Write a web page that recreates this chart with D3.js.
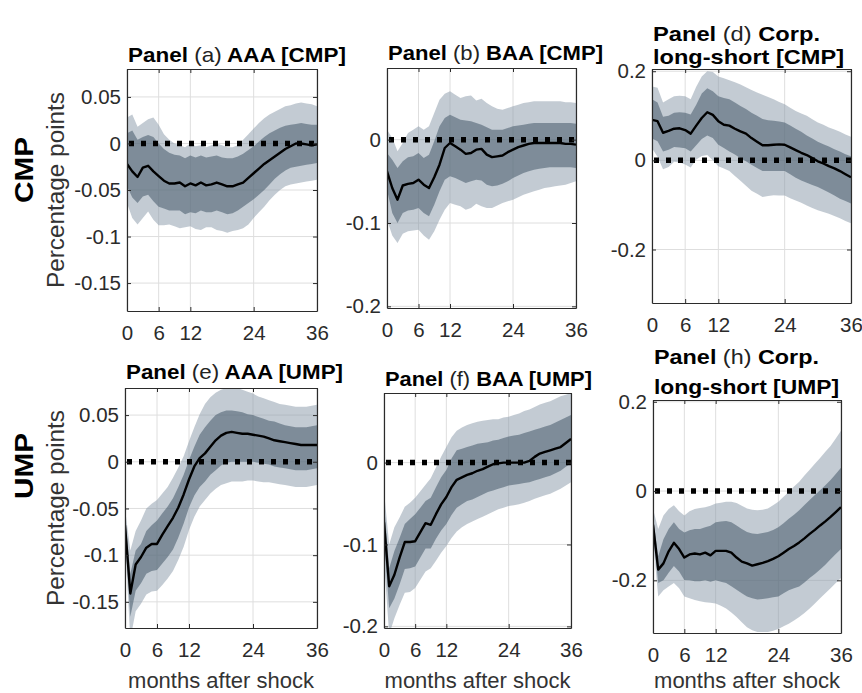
<!DOCTYPE html>
<html lang="en">
<head>
<meta charset="utf-8">
<script src="https://cdn.jsdelivr.net/npm/d3@7"></script>
<style>
  body { margin: 0; background: #fff; }
  text { font-family: "Liberation Sans", Arial, sans-serif; }
</style>
<title>Impulse responses</title>
</head>
<body>
<svg id="chart" width="862" height="693"></svg>
<script>
// months after the shock
const months = [0,1,2,3,4,5,6,7,8,9,10,11,12,13,14,15,16,17,18,19,20,21,22,23,24,25,26,27,28,29,30,31,32,33,34,35,36];
const monthTicks = [0, 6, 12, 24, 36];

const aaaTicks = [-0.15, -0.1, -0.05, 0, 0.05];
const aaaTickLabels = ["-0.15", "-0.1", "-0.05", "0", "0.05"];
const baaTicks = [-0.2, -0.1, 0];
const baaTickLabels = ["-0.2", "-0.1", "0"];
const lsTicks = [-0.2, 0, 0.2];
const lsTickLabels = ["-0.2", "0", "0.2"];

// Panel (a) AAA [CMP]
const aMean    = [-0.022,-0.03,-0.036,-0.026,-0.024,-0.03,-0.035,-0.04,-0.043,-0.043,-0.042,-0.046,-0.043,-0.045,-0.042,-0.045,-0.044,-0.042,-0.044,-0.046,-0.046,-0.044,-0.042,-0.037,-0.032,-0.027,-0.022,-0.018,-0.014,-0.01,-0.006,-0.003,0,0,-0.001,-0.002,-0.001];
const aInnerHi = [0.011,0.014,0.004,0.007,0.009,0.007,0,-0.006,-0.01,-0.012,-0.013,-0.016,-0.013,-0.015,-0.013,-0.015,-0.014,-0.013,-0.015,-0.016,-0.016,-0.014,-0.011,-0.007,-0.003,0.002,0.007,0.011,0.014,0.017,0.019,0.02,0.021,0.022,0.021,0.02,0.02];
const aInnerLo = [-0.046,-0.058,-0.064,-0.057,-0.055,-0.062,-0.068,-0.07,-0.072,-0.072,-0.072,-0.076,-0.074,-0.075,-0.072,-0.074,-0.074,-0.072,-0.074,-0.076,-0.075,-0.072,-0.068,-0.064,-0.06,-0.055,-0.05,-0.044,-0.038,-0.033,-0.029,-0.026,-0.025,-0.024,-0.023,-0.022,-0.021];
const aOuterHi = [0.028,0.031,0.018,0.022,0.026,0.028,0.02,0.01,0.004,0,-0.002,-0.004,0,-0.003,-0.002,-0.004,-0.002,0,-0.002,-0.004,-0.004,-0.002,0.004,0.01,0.016,0.022,0.027,0.031,0.034,0.037,0.04,0.041,0.043,0.044,0.043,0.042,0.04];
const aOuterLo = [-0.064,-0.08,-0.087,-0.08,-0.073,-0.082,-0.088,-0.088,-0.087,-0.089,-0.091,-0.09,-0.089,-0.092,-0.093,-0.09,-0.09,-0.093,-0.094,-0.096,-0.094,-0.093,-0.091,-0.087,-0.08,-0.074,-0.068,-0.061,-0.055,-0.05,-0.046,-0.044,-0.043,-0.042,-0.041,-0.04,-0.039];

// Panel (b) BAA [CMP]
const bMean    = [-0.038,-0.058,-0.072,-0.055,-0.053,-0.052,-0.048,-0.054,-0.058,-0.045,-0.03,-0.01,-0.004,-0.008,-0.012,-0.017,-0.016,-0.012,-0.011,-0.018,-0.021,-0.02,-0.019,-0.015,-0.012,-0.009,-0.007,-0.005,-0.004,-0.004,-0.004,-0.004,-0.004,-0.004,-0.005,-0.005,-0.006];
const bInnerHi = [-0.016,-0.024,-0.034,-0.026,-0.021,-0.02,-0.016,-0.022,-0.018,-0.002,0.016,0.026,0.03,0.027,0.024,0.023,0.022,0.02,0.018,0.015,0.012,0.012,0.012,0.014,0.016,0.017,0.018,0.019,0.02,0.02,0.02,0.02,0.02,0.02,0.02,0.02,0.019];
const bInnerLo = [-0.06,-0.088,-0.1,-0.088,-0.085,-0.084,-0.082,-0.088,-0.092,-0.078,-0.062,-0.048,-0.044,-0.046,-0.049,-0.052,-0.05,-0.048,-0.049,-0.054,-0.056,-0.055,-0.053,-0.05,-0.046,-0.043,-0.04,-0.038,-0.036,-0.035,-0.034,-0.033,-0.033,-0.033,-0.033,-0.033,-0.034];
const bOuterHi = [0.012,0.002,-0.014,-0.004,0.008,0.012,0.016,0.012,0.016,0.032,0.048,0.055,0.058,0.054,0.05,0.052,0.053,0.047,0.049,0.044,0.04,0.037,0.036,0.038,0.04,0.042,0.044,0.045,0.046,0.046,0.046,0.046,0.046,0.046,0.045,0.045,0.044];
const bOuterLo = [-0.096,-0.115,-0.124,-0.113,-0.11,-0.109,-0.108,-0.115,-0.12,-0.11,-0.096,-0.084,-0.076,-0.078,-0.08,-0.084,-0.082,-0.077,-0.08,-0.082,-0.082,-0.079,-0.076,-0.074,-0.072,-0.069,-0.066,-0.064,-0.062,-0.06,-0.058,-0.057,-0.056,-0.055,-0.054,-0.052,-0.05];

// Panel (d) Corp. long-short [CMP]
const dMean    = [0.091,0.088,0.062,0.066,0.071,0.072,0.068,0.06,0.078,0.095,0.108,0.102,0.088,0.08,0.078,0.071,0.065,0.06,0.05,0.042,0.034,0.034,0.035,0.036,0.035,0.029,0.023,0.017,0.012,0.005,-0.002,-0.007,-0.013,-0.018,-0.024,-0.031,-0.038];
const dInnerHi = [0.137,0.13,0.098,0.1,0.107,0.108,0.107,0.103,0.125,0.15,0.162,0.155,0.144,0.14,0.137,0.13,0.122,0.115,0.107,0.1,0.093,0.09,0.089,0.087,0.085,0.078,0.071,0.064,0.056,0.049,0.042,0.036,0.031,0.025,0.02,0.014,0.009];
const dInnerLo = [0.049,0.043,0.02,0.024,0.03,0.029,0.027,0.02,0.034,0.048,0.056,0.05,0.035,0.028,0.02,0.013,0.005,-0.002,-0.01,-0.017,-0.024,-0.024,-0.024,-0.024,-0.024,-0.031,-0.039,-0.045,-0.05,-0.055,-0.06,-0.066,-0.072,-0.079,-0.086,-0.091,-0.097];
const dOuterHi = [0.166,0.163,0.13,0.137,0.144,0.145,0.144,0.137,0.165,0.188,0.2,0.198,0.188,0.184,0.18,0.175,0.17,0.164,0.158,0.152,0.147,0.142,0.137,0.131,0.126,0.118,0.111,0.105,0.1,0.092,0.085,0.08,0.074,0.069,0.064,0.058,0.053];
const dOuterLo = [0.027,0.008,-0.02,-0.015,-0.003,-0.005,-0.009,-0.016,0.002,0.01,0.012,0,-0.013,-0.018,-0.024,-0.035,-0.046,-0.057,-0.068,-0.075,-0.082,-0.08,-0.078,-0.079,-0.079,-0.085,-0.09,-0.095,-0.101,-0.107,-0.112,-0.116,-0.12,-0.125,-0.13,-0.136,-0.141];

// Panel (e) AAA [UMP]
const eMean    = [-0.068,-0.141,-0.11,-0.102,-0.092,-0.088,-0.088,-0.078,-0.069,-0.06,-0.049,-0.035,-0.019,-0.005,0.004,0.009,0.016,0.023,0.028,0.031,0.032,0.031,0.03,0.03,0.029,0.028,0.027,0.025,0.023,0.022,0.021,0.02,0.019,0.018,0.018,0.018,0.018];
const eInnerHi = [-0.058,-0.12,-0.095,-0.088,-0.074,-0.068,-0.063,-0.055,-0.048,-0.039,-0.027,-0.014,0.002,0.016,0.029,0.037,0.044,0.05,0.053,0.055,0.055,0.054,0.053,0.051,0.05,0.048,0.046,0.044,0.043,0.041,0.039,0.038,0.037,0.037,0.037,0.038,0.039];
const eInnerLo = [-0.076,-0.166,-0.138,-0.13,-0.12,-0.117,-0.116,-0.109,-0.102,-0.094,-0.081,-0.066,-0.049,-0.036,-0.027,-0.021,-0.014,-0.009,-0.004,-0.001,0,0,0,0,0,-0.001,-0.002,-0.003,-0.005,-0.006,-0.007,-0.008,-0.009,-0.009,-0.009,-0.008,-0.007];
const eOuterHi = [-0.05,-0.095,-0.074,-0.063,-0.05,-0.045,-0.041,-0.034,-0.027,-0.017,-0.006,0.006,0.022,0.037,0.051,0.062,0.069,0.074,0.077,0.079,0.08,0.079,0.077,0.075,0.073,0.07,0.068,0.066,0.064,0.062,0.061,0.06,0.059,0.059,0.059,0.06,0.061];
const eOuterLo = [-0.085,-0.19,-0.16,-0.152,-0.142,-0.139,-0.138,-0.132,-0.125,-0.117,-0.105,-0.091,-0.073,-0.059,-0.048,-0.041,-0.034,-0.029,-0.025,-0.023,-0.021,-0.021,-0.021,-0.02,-0.02,-0.021,-0.022,-0.022,-0.023,-0.024,-0.025,-0.026,-0.027,-0.027,-0.027,-0.026,-0.025];

// Panel (f) BAA [UMP]
const fMean    = [-0.073,-0.151,-0.137,-0.116,-0.097,-0.097,-0.096,-0.085,-0.074,-0.076,-0.063,-0.051,-0.042,-0.03,-0.021,-0.018,-0.015,-0.013,-0.01,-0.008,-0.005,-0.002,-0.001,0,0,0,0,0,0.002,0.007,0.011,0.013,0.015,0.017,0.019,0.024,0.029];
const fInnerHi = [-0.05,-0.129,-0.108,-0.092,-0.075,-0.069,-0.063,-0.055,-0.047,-0.043,-0.03,-0.018,-0.009,0.005,0.015,0.017,0.019,0.021,0.023,0.024,0.025,0.027,0.028,0.03,0.032,0.033,0.034,0.036,0.038,0.04,0.042,0.044,0.046,0.049,0.052,0.055,0.058];
const fInnerLo = [-0.095,-0.178,-0.166,-0.149,-0.13,-0.129,-0.127,-0.116,-0.105,-0.105,-0.093,-0.083,-0.075,-0.064,-0.055,-0.051,-0.047,-0.045,-0.042,-0.039,-0.036,-0.034,-0.032,-0.03,-0.028,-0.027,-0.026,-0.025,-0.024,-0.022,-0.02,-0.018,-0.016,-0.013,-0.01,-0.005,-0.001];
const fOuterHi = [-0.035,-0.1,-0.079,-0.067,-0.054,-0.049,-0.043,-0.035,-0.027,-0.019,-0.006,0.007,0.019,0.031,0.039,0.043,0.046,0.048,0.05,0.051,0.052,0.053,0.053,0.055,0.056,0.058,0.06,0.063,0.065,0.068,0.071,0.073,0.075,0.078,0.081,0.083,0.085];
const fOuterLo = [-0.12,-0.21,-0.19,-0.174,-0.159,-0.158,-0.153,-0.143,-0.133,-0.129,-0.12,-0.11,-0.102,-0.092,-0.084,-0.079,-0.075,-0.072,-0.069,-0.066,-0.063,-0.06,-0.057,-0.055,-0.053,-0.052,-0.051,-0.049,-0.047,-0.044,-0.042,-0.04,-0.038,-0.035,-0.032,-0.028,-0.024];

// Panel (h) Corp. long-short [UMP]
const hMean    = [-0.075,-0.176,-0.162,-0.135,-0.116,-0.13,-0.149,-0.142,-0.14,-0.142,-0.138,-0.144,-0.134,-0.134,-0.134,-0.138,-0.149,-0.158,-0.162,-0.167,-0.164,-0.161,-0.157,-0.152,-0.146,-0.138,-0.13,-0.123,-0.115,-0.106,-0.096,-0.087,-0.077,-0.068,-0.058,-0.047,-0.036];
const hInnerHi = [-0.06,-0.146,-0.108,-0.085,-0.07,-0.085,-0.093,-0.088,-0.085,-0.085,-0.081,-0.078,-0.07,-0.068,-0.067,-0.07,-0.077,-0.085,-0.092,-0.095,-0.096,-0.094,-0.092,-0.087,-0.081,-0.072,-0.062,-0.053,-0.043,-0.031,-0.02,-0.009,0.002,0.013,0.025,0.038,0.052];
const hInnerLo = [-0.09,-0.206,-0.2,-0.183,-0.168,-0.18,-0.199,-0.2,-0.202,-0.202,-0.2,-0.203,-0.2,-0.203,-0.206,-0.213,-0.221,-0.229,-0.236,-0.24,-0.243,-0.242,-0.24,-0.238,-0.236,-0.229,-0.222,-0.218,-0.214,-0.205,-0.195,-0.186,-0.176,-0.165,-0.153,-0.141,-0.13];
const hOuterHi = [-0.04,-0.085,-0.055,-0.04,-0.032,-0.045,-0.055,-0.045,-0.04,-0.038,-0.036,-0.033,-0.028,-0.026,-0.024,-0.024,-0.027,-0.033,-0.039,-0.042,-0.043,-0.042,-0.039,-0.032,-0.024,-0.013,-0.002,0.01,0.021,0.035,0.048,0.061,0.074,0.088,0.101,0.118,0.135];
const hOuterLo = [-0.11,-0.236,-0.222,-0.214,-0.206,-0.218,-0.236,-0.24,-0.244,-0.247,-0.249,-0.25,-0.252,-0.257,-0.263,-0.272,-0.282,-0.294,-0.305,-0.312,-0.316,-0.316,-0.316,-0.313,-0.309,-0.303,-0.297,-0.29,-0.282,-0.273,-0.263,-0.252,-0.24,-0.229,-0.218,-0.206,-0.195];

// layout of the six axes (pixels) + which data goes where
const panels = [
  {id:"a", x0:127, x1:317, y0:69, y1:311, dom:[-0.18, 0.08], ticks:aaaTicks, labels:aaaTickLabels,
   title:[["Panel ","(a)"," AAA [CMP]"]], titleW:[218], titleY:[62],
   mean:aMean, inLo:aInnerLo, inHi:aInnerHi, outLo:aOuterLo, outHi:aOuterHi},
  {id:"b", x0:387, x1:576, y0:68, y1:308, dom:[-0.202, 0.086], ticks:baaTicks, labels:baaTickLabels,
   title:[["Panel ","(b)"," BAA [CMP]"]], titleW:[215], titleY:[60],
   mean:bMean, inLo:bInnerLo, inHi:bInnerHi, outLo:bOuterLo, outHi:bOuterHi},
  {id:"d", x0:652, x1:851, y0:69, y1:303, dom:[-0.32, 0.205], ticks:lsTicks, labels:lsTickLabels,
   title:[["Panel ","(d)"," Corp."], ["long-short [CMP]","",""]], titleW:[167, 191], titleY:[41, 64],
   mean:dMean, inLo:dInnerLo, inHi:dInnerHi, outLo:dOuterLo, outHi:dOuterHi},
  {id:"e", x0:125, x1:317, y0:388, y1:628, dom:[-0.178, 0.079], ticks:aaaTicks, labels:aaaTickLabels,
   title:[["Panel ","(e)"," AAA [UMP]"]], titleW:[217], titleY:[379],
   mean:eMean, inLo:eInnerLo, inHi:eInnerHi, outLo:eOuterLo, outHi:eOuterHi, xlab:true},
  {id:"f", x0:384, x1:571, y0:393, y1:628, dom:[-0.202, 0.085], ticks:baaTicks, labels:baaTickLabels,
   title:[["Panel ","(f)"," BAA [UMP]"]], titleW:[207], titleY:[386],
   mean:fMean, inLo:fInnerLo, inHi:fInnerHi, outLo:fOuterLo, outHi:fOuterHi, xlab:true},
  {id:"h", x0:653, x1:841, y0:400, y1:633, dom:[-0.318, 0.204], ticks:lsTicks, labels:lsTickLabels,
   title:[["Panel ","(h)"," Corp."], ["long-short [UMP]","",""]], titleW:[165, 185], titleY:[364, 394],
   mean:hMean, inLo:hInnerLo, inHi:hInnerHi, outLo:hOuterLo, outHi:hOuterHi, xlab:true}
];

const svg = d3.select("#chart");
svg.append("rect").attr("width", 862).attr("height", 693).attr("fill", "#fff");

const axisCol = "#2b2b2b";

panels.forEach(function(p) {
  const x = d3.scaleLinear().domain([0, 36]).range([p.x0, p.x1]);
  const y = d3.scaleLinear().domain(p.dom).range([p.y1, p.y0]);
  const g = svg.append("g");

  g.append("clipPath").attr("id", "clip-" + p.id)
    .append("rect")
      .attr("x", p.x0).attr("y", p.y0)
      .attr("width", p.x1 - p.x0).attr("height", p.y1 - p.y0);

  // grid
  g.append("g").selectAll("line").data(monthTicks).join("line")
    .attr("x1", d => x(d)).attr("x2", d => x(d))
    .attr("y1", p.y0).attr("y2", p.y1)
    .attr("stroke", "#dedede").attr("stroke-width", 1);
  g.append("g").selectAll("line").data(p.ticks).join("line")
    .attr("x1", p.x0).attr("x2", p.x1)
    .attr("y1", d => y(d)).attr("y2", d => y(d))
    .attr("stroke", "#dedede").attr("stroke-width", 1);

  const plot = g.append("g").attr("clip-path", "url(#clip-" + p.id + ")");

  const outer = d3.area()
    .x((d, i) => x(months[i]))
    .y0((d, i) => y(p.outLo[i]))
    .y1((d, i) => y(p.outHi[i]));
  const inner = d3.area()
    .x((d, i) => x(months[i]))
    .y0((d, i) => y(p.inLo[i]))
    .y1((d, i) => y(p.inHi[i]));

  plot.append("path").datum(months)
    .attr("d", outer)
    .attr("fill", "#8797a8").attr("fill-opacity", 0.5);
  plot.append("path").datum(months)
    .attr("d", inner)
    .attr("fill", "#46596a").attr("fill-opacity", 0.55);

  // zero line
  plot.append("line")
    .attr("x1", p.x0).attr("x2", p.x1)
    .attr("y1", y(0)).attr("y2", y(0))
    .attr("stroke", "#000").attr("stroke-width", 5.5)
    .attr("stroke-dasharray", "5,7").attr("stroke-dashoffset", -2);

  plot.append("path").datum(months)
    .attr("fill", "none")
    .attr("stroke", "#000")
    .attr("stroke-width", 2.4)
    .attr("stroke-linejoin", "round")
    .attr("d", d3.line()
      .x((d, i) => x(months[i]))
      .y((d, i) => y(p.mean[i])));

  // axes box with inward ticks
  const styleAxis = function(sel) {
    sel.selectAll("path").attr("stroke", axisCol).attr("stroke-width", 1.2);
    sel.selectAll("line").attr("stroke", axisCol);
    sel.selectAll("text").attr("fill", axisCol)
      .style("font-size", "20.5px")
      .style("font-family", '"Liberation Sans", Arial, sans-serif');
  };

  g.append("g")
    .attr("transform", `translate(0,${p.y1})`)
    .call(d3.axisBottom(x).tickValues(monthTicks).tickFormat(d3.format("d"))
      .tickSizeInner(-4).tickSizeOuter(0).tickPadding(14))
    .call(styleAxis);
  g.append("g")
    .attr("transform", `translate(0,${p.y0})`)
    .call(d3.axisTop(x).tickValues(monthTicks).tickFormat("")
      .tickSizeInner(-4).tickSizeOuter(0))
    .call(styleAxis);
  g.append("g")
    .attr("transform", `translate(${p.x0},0)`)
    .call(d3.axisLeft(y).tickValues(p.ticks)
      .tickFormat((d, i) => p.labels[i])
      .tickSizeInner(-4).tickSizeOuter(0).tickPadding(6))
    .call(styleAxis);
  g.append("g")
    .attr("transform", `translate(${p.x1},0)`)
    .call(d3.axisRight(y).tickValues(p.ticks).tickFormat("")
      .tickSizeInner(-4).tickSizeOuter(0))
    .call(styleAxis);

  // title (bold, with the panel letter in regular weight)
  p.title.forEach(function(parts, k) {
    const t = g.append("text")
      .attr("x", p.x0 + 1)
      .attr("y", p.titleY[k])
      .attr("textLength", p.titleW[k])
      .attr("lengthAdjust", "spacingAndGlyphs")
      .style("font-size", "21px")
      .attr("fill", "#000");
    t.append("tspan").style("font-weight", "bold").text(parts[0]);
    if (parts[1]) t.append("tspan").style("font-weight", "normal").attr("fill", "#222").text(parts[1]);
    if (parts[2]) t.append("tspan").style("font-weight", "bold").text(parts[2]);
  });

  if (p.xlab) {
    g.append("text")
      .attr("x", (p.x0 + p.x1) / 2)
      .attr("y", 688)
      .attr("text-anchor", "middle")
      .attr("fill", "#333")
      .style("font-size", "22px")
      .text("months after shock");
  }
});

// y label and row labels
[{cy: 190}, {cy: 508}].forEach(function(d) {
  svg.append("text")
    .attr("transform", `translate(64,${d.cy}) rotate(-90)`)
    .attr("text-anchor", "middle")
    .attr("fill", "#333")
    .attr("textLength", 196)
    .attr("lengthAdjust", "spacingAndGlyphs")
    .style("font-size", "23px")
    .text("Percentage points");
});

[{label: "CMP", cy: 170}, {label: "UMP", cy: 466}].forEach(function(d) {
  svg.append("text")
    .attr("transform", `translate(33,${d.cy}) rotate(-90)`)
    .attr("text-anchor", "middle")
    .attr("fill", "#000")
    .attr("textLength", 66)
    .attr("lengthAdjust", "spacingAndGlyphs")
    .style("font-size", "26px")
    .style("font-weight", "bold")
    .text(d.label);
});
</script>
</body>
</html>
